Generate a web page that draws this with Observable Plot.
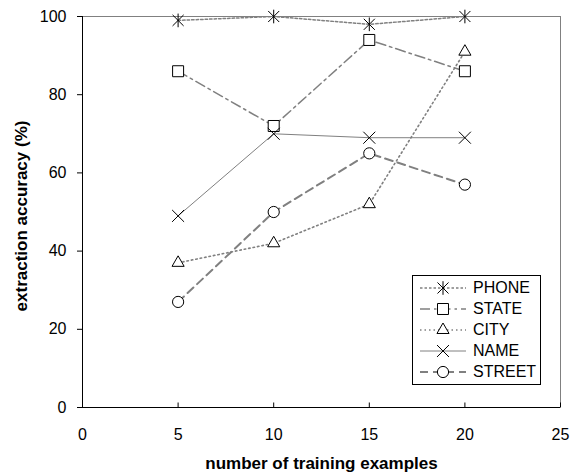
<!DOCTYPE html>
<html><head><meta charset="utf-8">
<script src="https://cdn.jsdelivr.net/npm/d3@7"></script>
<script src="https://cdn.jsdelivr.net/npm/@observablehq/plot@0.6"></script>
<style>
html,body{margin:0;padding:0;background:#fff;}
#wrap{position:relative;width:571px;height:472px;font-family:"Liberation Sans",Arial,sans-serif;}
#legend{position:absolute;left:412px;top:275px;width:127px;height:108px;border:1px solid #000;background:#fff;}
.row{position:absolute;left:0;width:127px;height:20px;}
.row svg{position:absolute;left:6px;top:0;}
.row span{position:absolute;left:60px;top:0;font-size:16px;line-height:20px;color:#000;white-space:nowrap;}
</style></head>
<body><div id="wrap"><div id="chart"></div><div id="legend"></div></div>
<script>
// ---- data ----
const seriesNames = ["PHONE", "STATE", "CITY", "NAME", "STREET"];
const examples = [5, 10, 15, 20];
const phone  = [99, 100, 98, 100];
const state  = [86, 72, 94, 86];
const city   = [37, 42, 52, 91];
const nameS  = [49, 70, 69, 69];
const street = [27, 50, 65, 57];
const xTicks = [0, 5, 10, 15, 20, 25];
const yTicks = [0, 20, 40, 60, 80, 100];
const xTitle = "number of training examples";
const yTitle = "extraction accuracy (%)";

const values = [phone, state, city, nameS, street];
const rows = seriesNames.flatMap((s, i) => examples.map((x, j) => ({series: s, x, y: values[i][j]})));

// ---- styles ----
const asterisk = {draw(ctx, size) {
  const r = Math.sqrt(size / Math.PI);
  const d = r * 0.85;
  ctx.moveTo(-d, -d); ctx.lineTo(d, d);
  ctx.moveTo(-d, d); ctx.lineTo(d, -d);
  ctx.moveTo(0, -r * 1.05); ctx.lineTo(0, r * 1.05);
}};
const upTick = {draw(ctx) { ctx.moveTo(0, 0); ctx.lineTo(0, -5); }};
const gray = "#808080";
const style = {
  PHONE:  {dash: "2.5,2",     width: 1.5, symbol: asterisk,   r: 6.5},
  STATE:  {dash: "10,4,2.5,4", width: 1.5, symbol: "square",  r: 6.2},
  CITY:   {dash: "1.5,3",     width: 1.6, symbol: "triangle", r: 4.5},
  NAME:   {dash: null,        width: 1,   symbol: "times",    r: 5.5},
  STREET: {dash: "8,5",       width: 2,   symbol: "circle",   r: 5.6}
};

const lineMarks = seriesNames.map(s => Plot.line(rows.filter(d => d.series === s), {
  x: "x", y: "y", stroke: gray, strokeWidth: style[s].width,
  strokeDasharray: style[s].dash || undefined
}));
const dotMarks = seriesNames.map(s => Plot.dot(rows.filter(d => d.series === s), {
  x: "x", y: "y", symbol: style[s].symbol, r: style[s].r,
  stroke: "black", strokeWidth: 1, fill: "white"
}));

const chart = Plot.plot({
  width: 571, height: 472,
  marginLeft: 82, marginRight: 11, marginTop: 16, marginBottom: 65,
  style: {fontFamily: "'Liberation Sans', Arial, sans-serif", fontSize: "16px", background: "white", color: "black"},
  x: {domain: [0, 25]},
  y: {domain: [0, 100]},
  marks: [
    Plot.ruleY([100], {stroke: gray, strokeWidth: 1}),
    Plot.ruleX([25], {stroke: gray, strokeWidth: 1}),
    ...lineMarks,
    Plot.ruleX([0], {stroke: "black", strokeWidth: 1}),
    Plot.ruleY([0], {stroke: "black", strokeWidth: 1}),
    Plot.axisY({ticks: yTicks, tickSize: 5, tickPadding: 11, fontSize: 16, label: null, tickFormat: d => d}),
    Plot.axisX({ticks: xTicks, tickSize: 0, tickPadding: 21, fontSize: 16, label: null, tickFormat: d => d}),
    Plot.dot(xTicks, {x: d => d, y: d => 0, symbol: upTick, r: 1, stroke: "black", strokeWidth: 1}),
    ...dotMarks,
    Plot.text([xTitle], {text: d => d, frameAnchor: "bottom", dy: 56, fontSize: 17, fontWeight: "bold", lineAnchor: "middle", textAnchor: "middle"}),
    Plot.text([yTitle], {text: d => d, frameAnchor: "left", rotate: -90, dx: -61, dy: 4, fontSize: 17, fontWeight: "bold", lineAnchor: "middle", textAnchor: "middle"})
  ]
});
document.getElementById("chart").appendChild(chart);

// ---- legend ----
const legend = d3.select("#legend");
const rowCenters = [12, 33, 54, 75, 96];
seriesNames.forEach((s, i) => {
  const st = style[s];
  const row = legend.append("div").attr("class", "row").style("top", (rowCenters[i] - 10) + "px");
  const svg = row.append("svg").attr("width", 48).attr("height", 20);
  svg.append("line").attr("x1", 1).attr("x2", 47).attr("y1", 10).attr("y2", 10)
    .attr("stroke", gray).attr("stroke-width", st.width)
    .attr("stroke-dasharray", st.dash);
  const symType = typeof st.symbol === "string"
    ? {square: d3.symbolSquare, triangle: d3.symbolTriangle, times: d3.symbolTimes, circle: d3.symbolCircle}[st.symbol]
    : st.symbol;
  svg.append("path").attr("transform", "translate(24,10)")
    .attr("d", d3.symbol(symType, Math.PI * st.r * st.r)())
    .attr("fill", "white").attr("stroke", "black").attr("stroke-width", 1);
  row.append("span").text(s);
});
</script>
</body></html>
